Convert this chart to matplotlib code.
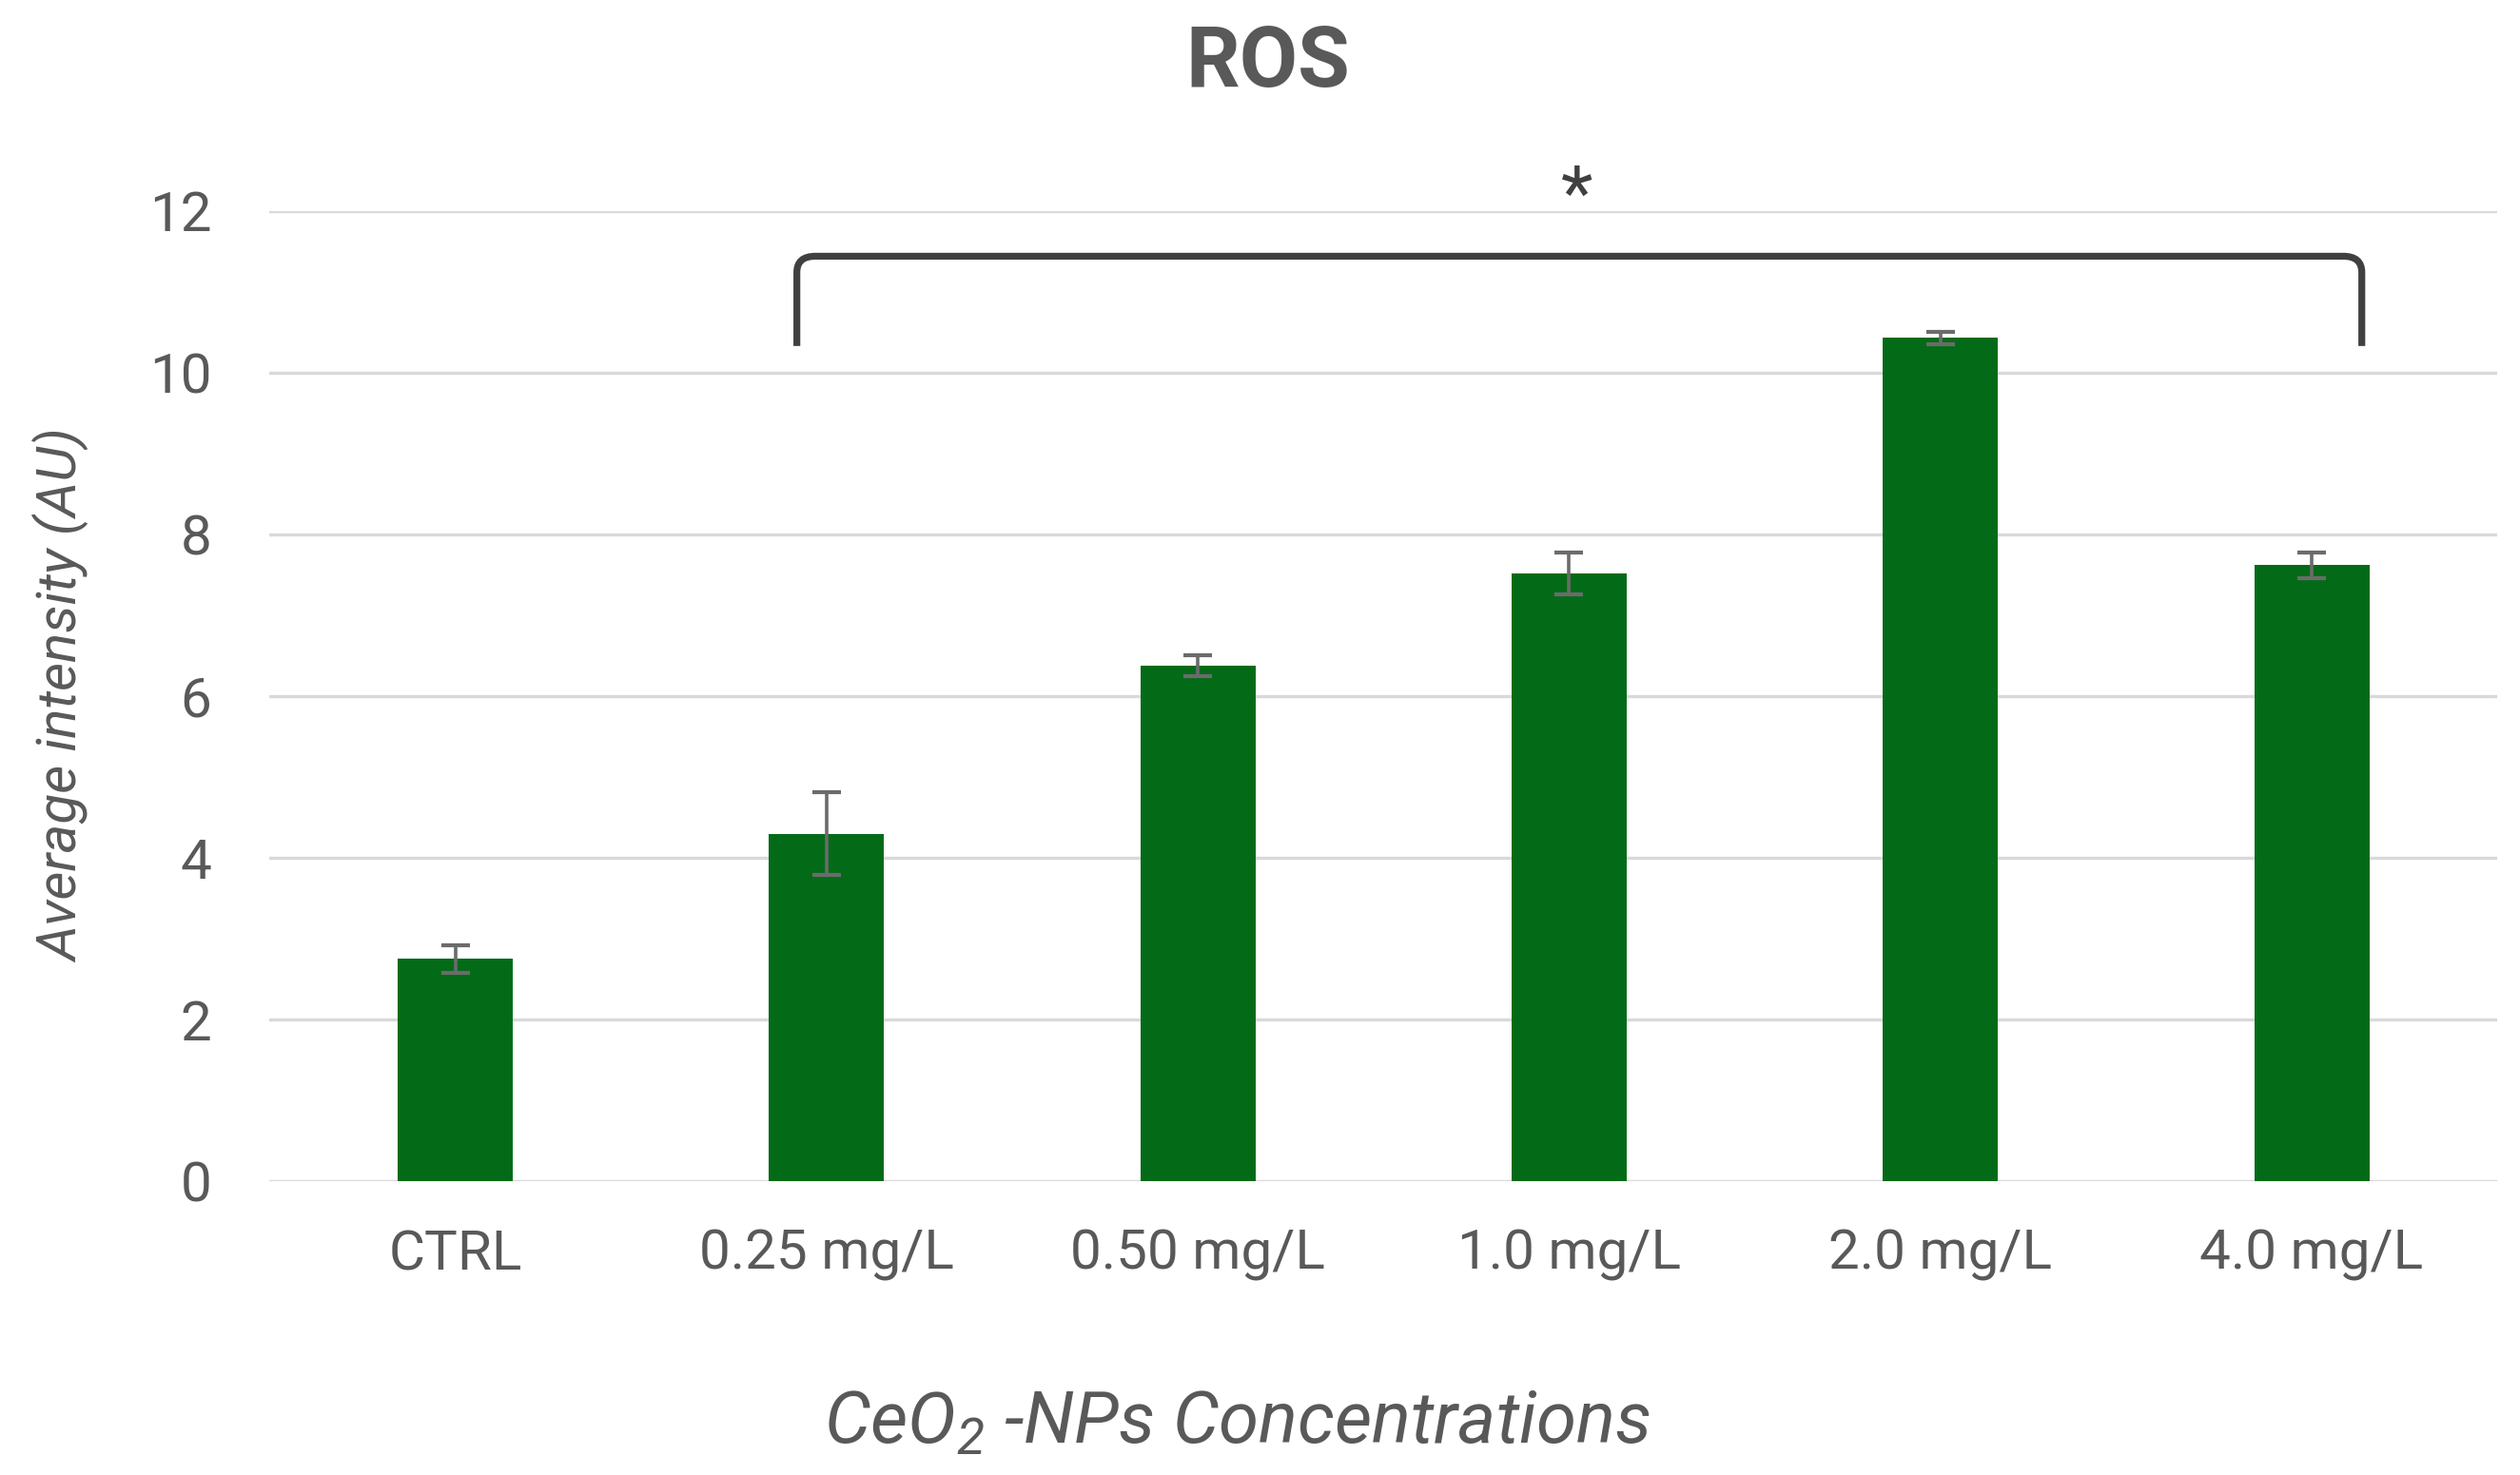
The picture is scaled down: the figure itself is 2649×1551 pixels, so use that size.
import numpy as np
import matplotlib
matplotlib.use("Agg")
import matplotlib.pyplot as plt
from matplotlib.path import Path
from matplotlib.patches import PathPatch

# dados
categorias = ["CTRL", "0.25 mg/L", "0.50 mg/L", "1.0 mg/L", "2.0 mg/L", "4.0 mg/L"]
medias = [2.75, 4.30, 6.38, 7.52, 10.43, 7.62]
erros = [0.17, 0.51, 0.13, 0.26, 0.08, 0.16]
yticks = [0, 2, 4, 6, 8, 10, 12]

plt.rcParams["font.family"] = ["Roboto", "DejaVu Sans"]
plt.rcParams["mathtext.fontset"] = "custom"
plt.rcParams["mathtext.it"] = "Roboto:italic"
plt.rcParams["mathtext.rm"] = "Roboto:italic"

cinza = "#595959"
verde = "#036b18"

fig = plt.figure(figsize=(13.245, 7.755), dpi=200)
ax = fig.add_axes([0.107, 0.199, 0.884, 0.658])

x = np.arange(len(categorias))
ax.bar(x, medias, width=0.31, color=verde, zorder=3)
ax.errorbar(x, medias, yerr=erros, fmt="none", ecolor="#6b6b6b",
            elinewidth=1.3, capsize=5.5, capthick=1.5, zorder=4)

ax.set_xlim(-0.5, len(categorias) - 0.5)
ax.set_ylim(0, 12)
ax.set_yticks(yticks)
ax.set_xticks(x)
ax.set_xticklabels(categorias)
ax.tick_params(axis="both", length=0, labelsize=21, labelcolor=cinza)
ax.tick_params(axis="x", pad=18)
ax.tick_params(axis="y", pad=22)
ax.grid(axis="y", color="#d9d9d9", linewidth=1.2, zorder=0)
for s in ax.spines.values():
    s.set_visible(False)
ax.set_axisbelow(True)

# colchete de significância
x0, x1 = 0.92, 5.135
yb, yt = 10.33, 11.44
r = 0.05
verts = [(x0, yb), (x0, yt - 0.2), (x0, yt), (x0 + r, yt),
         (x1 - r, yt), (x1, yt), (x1, yt - 0.2), (x1, yb)]
codes = [Path.MOVETO, Path.LINETO, Path.CURVE3, Path.CURVE3,
         Path.LINETO, Path.CURVE3, Path.CURVE3, Path.LINETO]
ax.add_patch(PathPatch(Path(verts, codes), fill=False, edgecolor="#404040",
                       linewidth=2.6, clip_on=False, zorder=5))
ax.text(3.02, 11.72, "*", ha="center", va="bottom", fontsize=28,
        color="#404040", clip_on=False)

fig.text(0.503, 0.957, "ROS", ha="center", va="center", fontsize=32,
         fontweight="bold", color=cinza)
ax.set_ylabel("Average intensity (AU)", fontsize=21, style="italic",
              color=cinza, labelpad=22)
fig.text(0.491, 0.035, "CeO$_2$ -NPs Concentrations", ha="center",
         va="center", fontsize=27.5, style="italic", color=cinza)

fig.savefig("out.png", dpi=200)
